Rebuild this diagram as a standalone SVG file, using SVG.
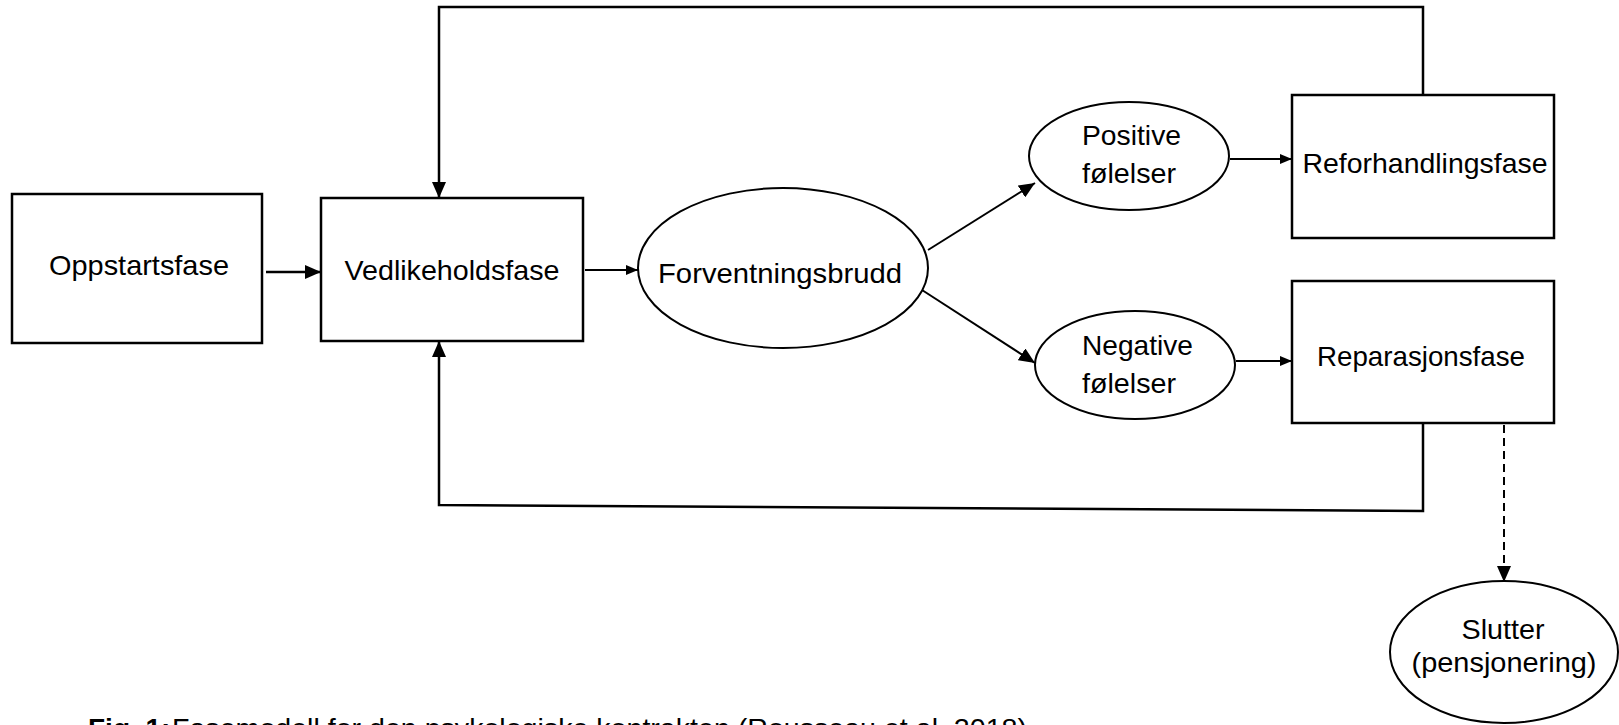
<svg xmlns="http://www.w3.org/2000/svg" width="1619" height="725" viewBox="0 0 1619 725">
<style>
.box{fill:#fff;stroke:#000;stroke-width:2.5}
.ell{fill:#fff;stroke:#000;stroke-width:2}
.lbl{font-family:"Liberation Sans",Arial,sans-serif;font-size:28px;fill:#000}
.c{text-anchor:middle}
.ln{fill:none;stroke:#000;stroke-width:2}
.cap{font-family:"Liberation Sans",Arial,sans-serif;font-size:28px;fill:#000}
</style>
<defs>
<marker id="ah" viewBox="0 0 16 14" refX="16" refY="7" markerWidth="16" markerHeight="14" markerUnits="userSpaceOnUse" orient="auto">
<path d="M0,0 L16,7 L0,14 Z" fill="#000"/>
</marker>
<marker id="ahs" viewBox="0 0 12 10" refX="12" refY="5" markerWidth="12" markerHeight="10" markerUnits="userSpaceOnUse" orient="auto">
<path d="M0,0 L12,5 L0,10 Z" fill="#000"/>
</marker>
</defs>
<rect width="1619" height="725" fill="#fff"/>
<g id="connectors">
<line class="ln" x1="266" y1="272" x2="321" y2="272" style="stroke-width:2.5" marker-end="url(#ah)"/>
<line class="ln" x1="585" y1="270" x2="638" y2="270" marker-end="url(#ahs)"/>
<line class="ln" x1="928" y1="250" x2="1035" y2="183" marker-end="url(#ah)"/>
<line class="ln" x1="922" y1="290" x2="1035" y2="363" marker-end="url(#ah)"/>
<line class="ln" x1="1230" y1="159" x2="1292" y2="159" marker-end="url(#ahs)"/>
<line class="ln" x1="1236" y1="361" x2="1292" y2="361" marker-end="url(#ahs)"/>
<polyline class="ln" points="1423,95 1423,7 439,7 439,198" style="stroke-width:2.5" marker-end="url(#ah)"/>
<polyline class="ln" points="1423,423 1423,511 439,505 439,341" style="stroke-width:2.5" marker-end="url(#ah)"/>
<line class="ln" x1="1504" y1="425" x2="1504" y2="582" stroke-dasharray="8,5" marker-end="url(#ah)"/>
</g>
<g id="oppstartsfase">
<rect class="box" x="12" y="194" width="250" height="149"/>
<text class="lbl c" x="139" y="275" textLength="180" lengthAdjust="spacingAndGlyphs">Oppstartsfase</text>
</g>
<g id="vedlikeholdsfase">
<rect class="box" x="321" y="198" width="262" height="143"/>
<text class="lbl c" x="452" y="280" textLength="215" lengthAdjust="spacingAndGlyphs">Vedlikeholdsfase</text>
</g>
<g id="forventningsbrudd">
<ellipse class="ell" cx="783" cy="268" rx="145" ry="80"/>
<text class="lbl c" x="780" y="283" textLength="244" lengthAdjust="spacingAndGlyphs">Forventningsbrudd</text>
</g>
<g id="positive">
<ellipse class="ell" cx="1129" cy="156" rx="100" ry="54"/>
<text class="lbl" x="1082" y="145" textLength="99" lengthAdjust="spacingAndGlyphs">Positive</text>
<text class="lbl" x="1082" y="183" textLength="94" lengthAdjust="spacingAndGlyphs">følelser</text>
</g>
<g id="negative">
<ellipse class="ell" cx="1135" cy="365" rx="100" ry="54"/>
<text class="lbl" x="1082" y="355" textLength="111" lengthAdjust="spacingAndGlyphs">Negative</text>
<text class="lbl" x="1082" y="393" textLength="94" lengthAdjust="spacingAndGlyphs">følelser</text>
</g>
<g id="reforhandlingsfase">
<rect class="box" x="1292" y="95" width="262" height="143"/>
<text class="lbl c" x="1425" y="173" textLength="245" lengthAdjust="spacingAndGlyphs">Reforhandlingsfase</text>
</g>
<g id="reparasjonsfase">
<rect class="box" x="1292" y="281" width="262" height="142"/>
<text class="lbl c" x="1421" y="366" textLength="208" lengthAdjust="spacingAndGlyphs">Reparasjonsfase</text>
</g>
<g id="slutter">
<ellipse class="ell" cx="1504" cy="652" rx="114" ry="71"/>
<text class="lbl c" x="1503" y="639" textLength="83" lengthAdjust="spacingAndGlyphs">Slutter</text>
<text class="lbl c" x="1504" y="672" textLength="185" lengthAdjust="spacingAndGlyphs">(pensjonering)</text>
</g>
<g id="caption">
<text class="cap" x="88" y="738"><tspan font-weight="bold">Fig. 1:</tspan> <tspan x="172" textLength="855" lengthAdjust="spacingAndGlyphs">Fasemodell for den psykologiske kontrakten (Rousseau et al. 2018)</tspan></text>
</g>
</svg>
